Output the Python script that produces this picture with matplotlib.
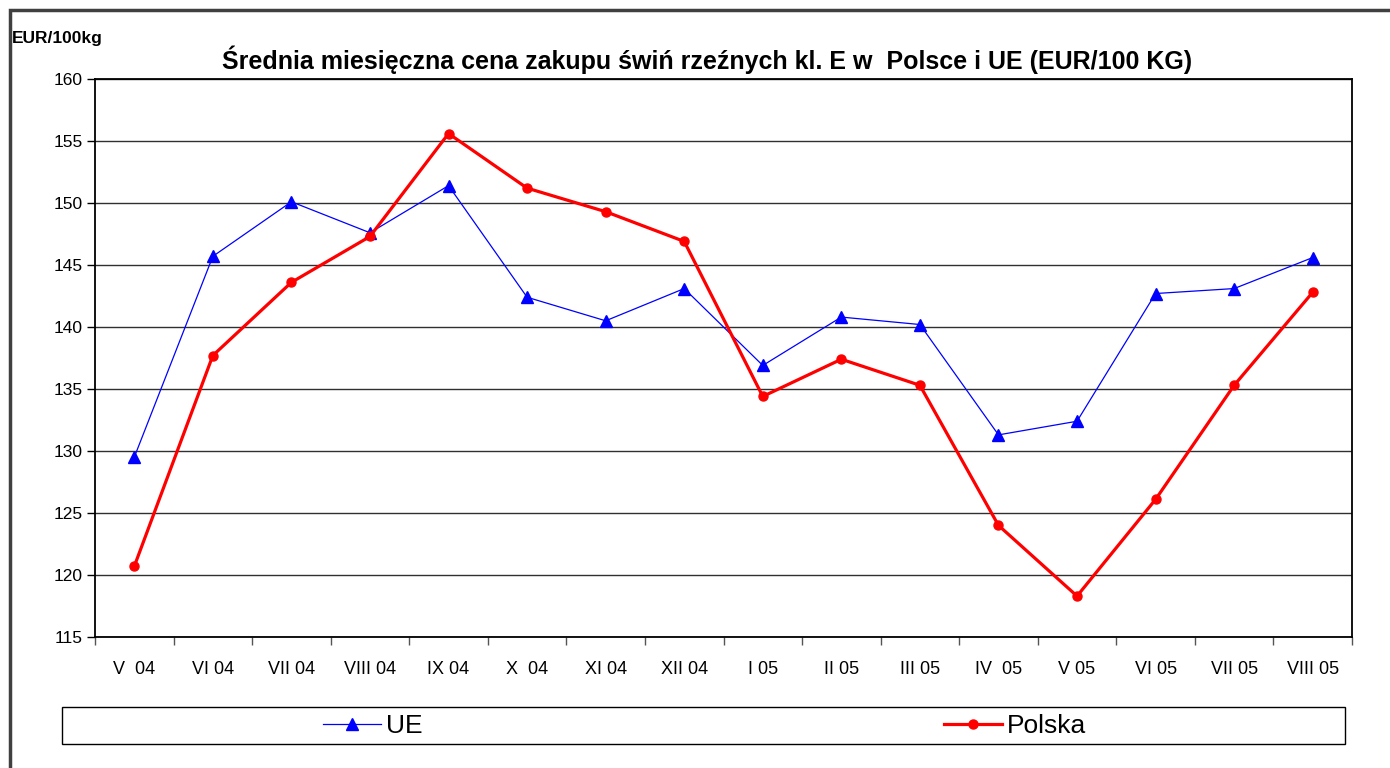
import matplotlib
matplotlib.use('Agg')
import matplotlib.pyplot as plt
from matplotlib.patches import Rectangle
from matplotlib.lines import Line2D
import numpy as np

plt.rcParams['font.family'] = ['Liberation Sans', 'DejaVu Sans']

# dane
miesiace = ['V  04', 'VI 04', 'VII 04', 'VIII 04', 'IX 04', 'X  04', 'XI 04', 'XII 04',
            'I 05', 'II 05', 'III 05', 'IV  05', 'V 05', 'VI 05', 'VII 05', 'VIII 05']
ue = [129.5, 145.7, 150.1, 147.6, 151.4, 142.4, 140.5, 143.1,
      136.9, 140.8, 140.2, 131.3, 132.4, 142.7, 143.1, 145.6]
polska = [120.7, 137.7, 143.6, 147.3, 155.6, 151.2, 149.3, 146.9,
          134.4, 137.4, 135.3, 124.0, 118.3, 126.1, 135.3, 142.8]

W, H = 1390, 768
fig = plt.figure(figsize=(W / 100, H / 100), dpi=100)

# ramka wokół całego obszaru wykresu
fig.patches.append(Rectangle((10 / W, -0.1), 1.2, 1 - 10 / H + 0.1, transform=fig.transFigure,
                             fill=False, edgecolor='#404040', linewidth=2.5))

ax = fig.add_axes([95 / W, 1 - 637 / H, (1352 - 95) / W, (637 - 79) / H])
x = np.arange(len(miesiace))

ax.plot(x, ue, color='blue', linewidth=0.9, marker='^', markersize=8, label='UE', zorder=3)
ax.plot(x, polska, color='red', linewidth=2.3, marker='o', markersize=6.5, label='Polska', zorder=4)

ax.set_xlim(-0.5, len(miesiace) - 0.5)
ax.set_ylim(115, 160)
ax.set_yticks(np.arange(115, 161, 5))
ax.yaxis.grid(True, color='#303030', linewidth=1)
ax.set_axisbelow(True)

ax.set_xticks(x)
ax.set_xticklabels(miesiace, fontsize=13)
ax.set_xticks(np.arange(-0.5, len(miesiace)), minor=True)
ax.tick_params(axis='x', which='major', length=0, pad=17)
ax.tick_params(axis='x', which='minor', length=6, direction='out', width=1, color='#555555')
ax.tick_params(axis='y', length=6, direction='out', width=1, labelsize=12.5, pad=3)
for s in ax.spines.values():
    s.set_color('black')
    s.set_linewidth(1.3)

fig.text(707 / W, 1 - 60 / H, 'Średnia miesięczna cena zakupu świń rzeźnych kl. E w  Polsce i UE (EUR/100 KG)',
         ha='center', va='center', fontsize=18, fontweight='bold')
fig.text(12 / W, 1 - 38 / H, 'EUR/100kg', ha='left', va='center', fontsize=12.5, fontweight='bold')

# legenda w prostokącie pod wykresem
fig.patches.append(Rectangle((62 / W, 1 - 744 / H), (1345 - 62) / W, 37 / H, transform=fig.transFigure,
                             fill=False, edgecolor='black', linewidth=1))
h_ue = Line2D([], [], color='blue', linewidth=0.9, marker='^', markersize=8)
h_pl = Line2D([], [], color='red', linewidth=2.3, marker='o', markersize=6.5)
fig.legend([h_ue], ['UE'], loc='center', bbox_to_anchor=(373 / W, 1 - 726 / H),
           frameon=False, fontsize=19, handlelength=2.2, handletextpad=0.2)
fig.legend([h_pl], ['Polska'], loc='center', bbox_to_anchor=(1015 / W, 1 - 726 / H),
           frameon=False, fontsize=19, handlelength=2.2, handletextpad=0.2)

fig.savefig('out.png', dpi=100)
